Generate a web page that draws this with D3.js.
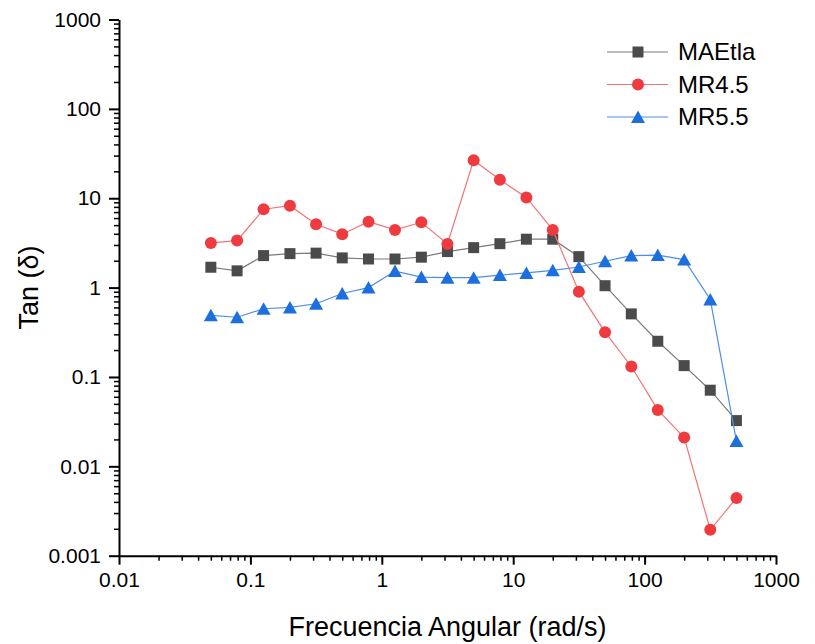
<!DOCTYPE html>
<html>
<head>
<meta charset="utf-8">
<script src="https://d3js.org/d3.v7.min.js"></script>
<style>
  body { margin: 0; background: #fff; }
  text { font-family: "Liberation Sans", Arial, sans-serif; fill: #000; }
</style>
</head>
<body>
<script>
  // angular frequency (rad/s)
  const freq = [0.05, 0.0792, 0.126, 0.2, 0.316, 0.5, 0.792, 1.26, 2, 3.16, 5, 7.92, 12.6, 20, 31.6, 50, 79.2, 126, 200, 316, 500];
  // tan(delta) per sample
  const maetla = [1.69, 1.54, 2.28, 2.40, 2.43, 2.15, 2.09, 2.09, 2.19, 2.53, 2.80, 3.10, 3.48, 3.48, 2.22, 1.05, 0.508, 0.251, 0.134, 0.0711, 0.0325];
  const mr45 = [3.16, 3.36, 7.53, 8.26, 5.11, 3.96, 5.47, 4.42, 5.38, 3.08, 26.6, 16.1, 10.2, 4.42, 0.90, 0.317, 0.131, 0.0428, 0.0210, 0.00195, 0.00441];
  const mr55 = [0.489, 0.466, 0.58, 0.60, 0.66, 0.86, 1.00, 1.53, 1.31, 1.29, 1.29, 1.38, 1.46, 1.56, 1.70, 1.97, 2.28, 2.31, 2.06, 0.738, 0.0192];

  const seriesNames = ["MAEtla", "MR4.5", "MR5.5"];
  const xTicks = [0.01, 0.1, 1, 10, 100, 1000];
  const yTicks = [0.001, 0.01, 0.1, 1, 10, 100, 1000];

  const width = 815, height = 644;
  const mLeft = 119, mRight = 776, mTop = 19.5, mBottom = 555.7;

  const svg = d3.select("body").append("svg")
    .attr("width", width)
    .attr("height", height);

  const x = d3.scaleLog().domain([0.01, 1000]).range([mLeft, mRight]);
  const y = d3.scaleLog().domain([0.001, 1000]).range([mBottom, mTop]);

  // minor ticks 2..9 in each decade
  function minors(lo, hi) {
    const out = [];
    for (let p = Math.round(Math.log10(lo)); p < Math.round(Math.log10(hi)); p++) {
      for (let k = 2; k <= 9; k++) out.push(k * Math.pow(10, p));
    }
    return out;
  }

  const fmt = d => String(+d.toPrecision(3));

  // x axis
  svg.append("g")
    .attr("transform", "translate(0," + mBottom + ")")
    .call(d3.axisBottom(x).tickValues(minors(0.01, 1000)).tickSize(5).tickFormat(""))
    .call(g => g.select(".domain").remove())
    .selectAll("line").attr("stroke-width", 1.5);

  const gx = svg.append("g")
    .attr("transform", "translate(0," + mBottom + ")")
    .call(d3.axisBottom(x).tickValues(xTicks).tickSize(9).tickPadding(7).tickSizeOuter(0).tickFormat(fmt));
  gx.select(".domain").attr("stroke-width", 2);
  gx.selectAll("line").attr("stroke-width", 2);
  gx.selectAll("text").attr("font-size", 21).attr("font-family", "Liberation Sans, Arial, sans-serif");

  // y axis
  svg.append("g")
    .attr("transform", "translate(" + mLeft + ",0)")
    .call(d3.axisLeft(y).tickValues(minors(0.001, 1000)).tickSize(5).tickFormat(""))
    .call(g => g.select(".domain").remove())
    .selectAll("line").attr("stroke-width", 1.5);

  const gy = svg.append("g")
    .attr("transform", "translate(" + mLeft + ",0)")
    .call(d3.axisLeft(y).tickValues(yTicks).tickSize(10).tickPadding(8).tickSizeOuter(0).tickFormat(fmt));
  gy.select(".domain").attr("stroke-width", 2);
  gy.selectAll("line").attr("stroke-width", 2);
  gy.selectAll("text").attr("font-size", 21).attr("font-family", "Liberation Sans, Arial, sans-serif");

  // axis titles
  svg.append("text")
    .attr("x", (mLeft + mRight) / 2)
    .attr("y", 636)
    .attr("text-anchor", "middle")
    .attr("font-size", 27)
    .text("Frecuencia Angular (rad/s)");

  svg.append("text")
    .attr("transform", "translate(38," + (mTop + mBottom) / 2 + ") rotate(-90)")
    .attr("text-anchor", "middle")
    .attr("font-size", 27)
    .text("Tan (δ)");

  // symbols
  const square = "M-5.5,-5.5H5.5V5.5H-5.5Z";
  const circle = d3.symbol().type(d3.symbolCircle).size(Math.PI * 36)();
  const triangle = "M0,-6.5L7,6L-7,6Z";

  const series = [
    { name: seriesNames[0], values: maetla, line: "#7a7a7a", fill: "#4b4b4b", shape: square },
    { name: seriesNames[1], values: mr45, line: "#f27476", fill: "#ef3b3f", shape: circle },
    { name: seriesNames[2], values: mr55, line: "#4d8fe6", fill: "#1c6fdd", shape: triangle }
  ];

  const line = d3.line()
    .x(d => x(d[0]))
    .y(d => y(d[1]));

  series.forEach(s => {
    const pts = freq.map((f, i) => [f, s.values[i]]);
    svg.append("path")
      .datum(pts)
      .attr("d", line)
      .attr("fill", "none")
      .attr("stroke", s.line)
      .attr("stroke-width", 1.2);
    svg.append("g").selectAll("path")
      .data(pts)
      .enter()
      .append("path")
      .attr("transform", d => "translate(" + x(d[0]) + "," + y(d[1]) + ")")
      .attr("d", s.shape)
      .attr("fill", s.fill);
  });

  // legend
  const legend = svg.append("g");
  const rows = [52, 84.5, 117];
  series.forEach((s, i) => {
    const g = legend.append("g").attr("transform", "translate(0," + rows[i] + ")");
    g.append("line")
      .attr("x1", 607).attr("x2", 668)
      .attr("stroke", s.line).attr("stroke-width", 1.2);
    g.append("path")
      .attr("transform", "translate(638,0)")
      .attr("d", s.shape)
      .attr("fill", s.fill);
    g.append("text")
      .attr("x", 678)
      .attr("dy", "0.35em")
      .attr("font-size", 24)
      .text(s.name);
  });
</script>
</body>
</html>
